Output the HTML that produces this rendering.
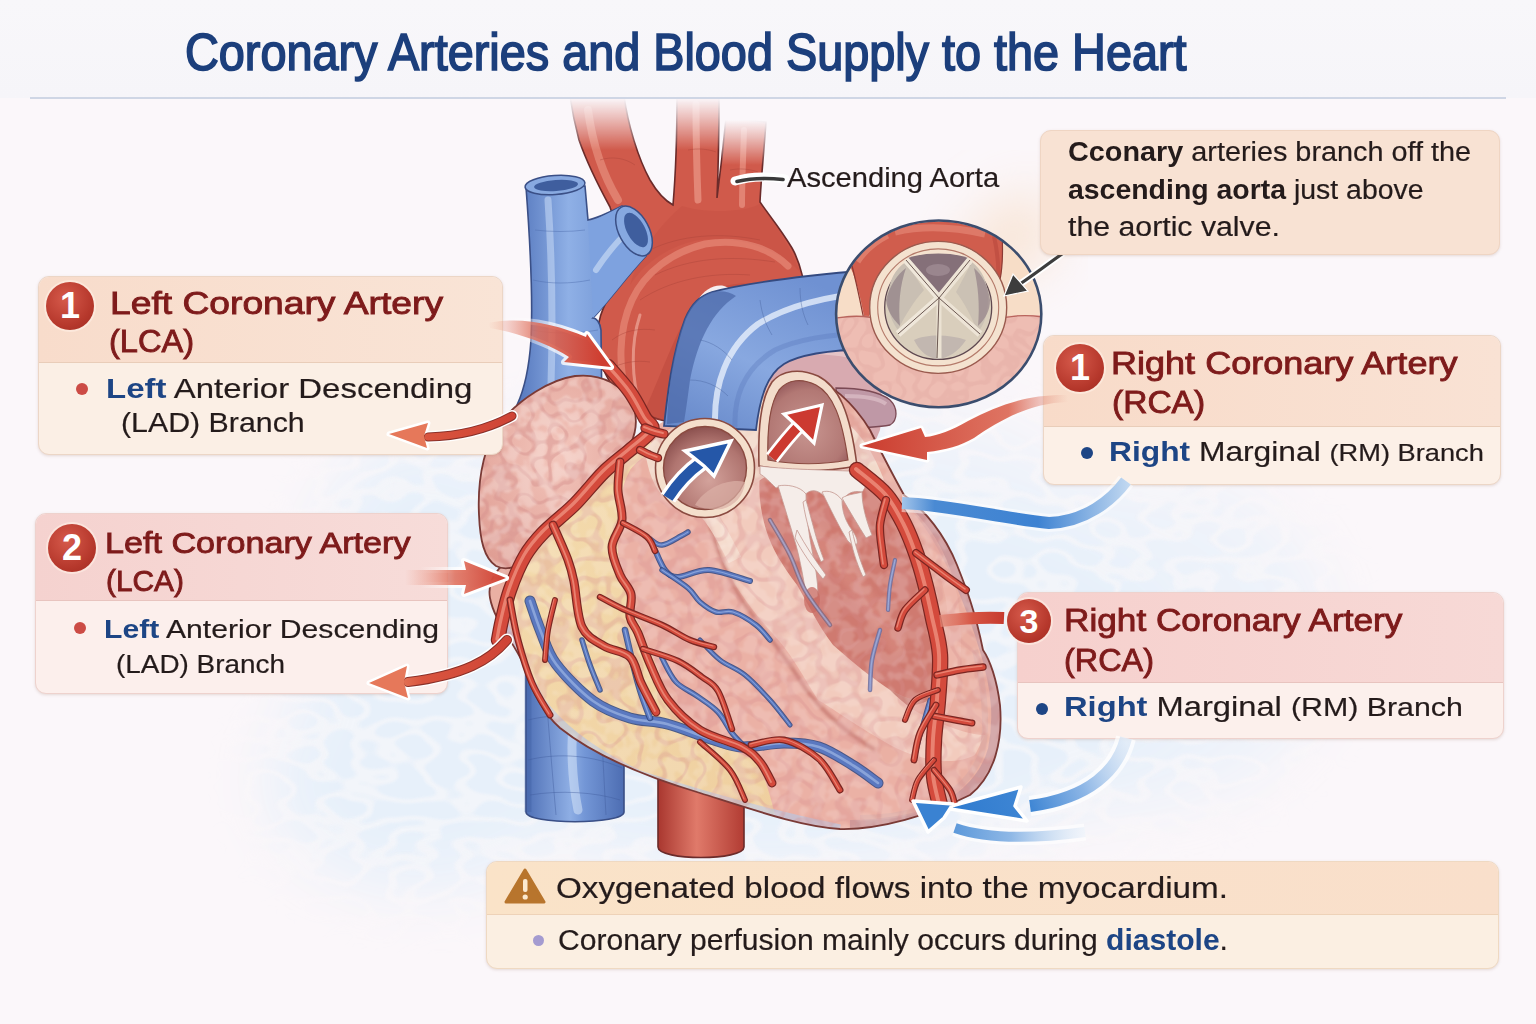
<!DOCTYPE html>
<html><head><meta charset="utf-8">
<title>Coronary Arteries and Blood Supply to the Heart</title>
<style>
#hdrband{position:absolute;left:0;top:0;width:1536px;height:98px;background:linear-gradient(180deg,#f8f7fa,#f6f5f9);}
html,body{margin:0;padding:0;}
body{width:1536px;height:1024px;position:relative;overflow:hidden;background:#fbf7fa;font-family:"Liberation Sans",sans-serif;}
.abs{position:absolute;}
.t{position:absolute;white-space:nowrap;transform-origin:0 0;line-height:1;}
.box{position:absolute;border-radius:11px;overflow:hidden;box-shadow:0 1px 3px rgba(150,110,90,0.22);}
.hd{position:absolute;left:0;right:0;top:0;}
.badge{position:absolute;border-radius:50%;background:radial-gradient(circle at 40% 35%,#d65a4b,#b5372b 65%,#9c2a21);color:#fff;font-weight:bold;text-align:center;box-shadow:0 0 0 2px rgba(255,240,230,0.6);}
.red{color:#7e1b1b;-webkit-text-stroke:0.9px #7e1b1b;}
.blk{color:#241b1b;-webkit-text-stroke:0.2px #241b1b;}
.nav{color:#1d4585;font-weight:bold;-webkit-text-stroke:0;}
b{-webkit-text-stroke:0;}
</style></head><body>
<div id="hdrband"></div>
<svg class="abs" style="left:0;top:0" width="1536" height="1024" viewBox="0 0 1536 1024">
<defs>
  <filter id="cells" x="0" y="0" width="100%" height="100%">
    <feTurbulence type="turbulence" baseFrequency="0.05" numOctaves="1" seed="9" result="n"/>
    <feColorMatrix in="n" type="matrix" values="0 0 0 0 0.68  0 0 0 0 0.28  0 0 0 0 0.28  0 0 0 -10 1.6" result="c"/>
    <feGaussianBlur stdDeviation="0.5"/>
    <feComposite in2="SourceGraphic" operator="in"/>
  </filter>
  <filter id="cellsSmall" x="0" y="0" width="100%" height="100%">
    <feTurbulence type="turbulence" baseFrequency="0.06" numOctaves="1" seed="4" result="n"/>
    <feColorMatrix in="n" type="matrix" values="0 0 0 0 0.68  0 0 0 0 0.3  0 0 0 0 0.28  0 0 0 -10 1.6" result="c"/>
    <feGaussianBlur stdDeviation="0.5"/>
    <feComposite in2="SourceGraphic" operator="in"/>
  </filter>
  <filter id="hilite" x="0" y="0" width="100%" height="100%">
    <feTurbulence type="fractalNoise" baseFrequency="0.075" numOctaves="2" seed="3" result="n"/>
    <feColorMatrix in="n" type="matrix" values="0 0 0 0 1  0 0 0 0 0.95  0 0 0 0 0.92  0 0 0 -14 7.5" result="c"/>
    <feGaussianBlur stdDeviation="1"/>
    <feComposite in2="SourceGraphic" operator="in"/>
  </filter>
  <filter id="blur30" x="-50%" y="-50%" width="200%" height="200%"><feGaussianBlur stdDeviation="30"/></filter>
  <filter id="blur8" x="-50%" y="-50%" width="200%" height="200%"><feGaussianBlur stdDeviation="8"/></filter>
  <filter id="blur3" x="-20%" y="-20%" width="140%" height="140%"><feGaussianBlur stdDeviation="3"/></filter>
  <filter id="blur2" x="-20%" y="-20%" width="140%" height="140%"><feGaussianBlur stdDeviation="1.6"/></filter>
  <!-- watercolor blotches -->
  <filter id="wc" x="0" y="0" width="100%" height="100%">
    <feTurbulence type="turbulence" baseFrequency="0.028 0.05" numOctaves="1" seed="2" result="n"/>
    <feColorMatrix in="n" type="matrix" values="0 0 0 0 0.8  0 0 0 0 0.87  0 0 0 0 0.955  0 0 0 12 -0.9" result="c"/>
    <feGaussianBlur stdDeviation="0.8"/>
    <feComposite in2="SourceGraphic" operator="in"/>
  </filter>
  <!-- bumpy tissue texture -->
  <filter id="bumps" x="0" y="0" width="100%" height="100%">
    <feTurbulence type="turbulence" baseFrequency="0.07" numOctaves="2" seed="3" result="n"/>
    <feColorMatrix in="n" type="matrix" values="0 0 0 0 1  0 0 0 0 0.93  0 0 0 0 0.9  0 0 0 3.2 -1.0" result="c"/>
    <feComposite in="c" in2="SourceGraphic" operator="in"/>
  </filter>
  <filter id="bumpsDark" x="0" y="0" width="100%" height="100%">
    <feTurbulence type="turbulence" baseFrequency="0.06" numOctaves="2" seed="11" result="n"/>
    <feColorMatrix in="n" type="matrix" values="0 0 0 0 0.72  0 0 0 0 0.3  0 0 0 0 0.28  0 0 0 -3 1.05" result="c"/>
    <feComposite in="c" in2="SourceGraphic" operator="in"/>
  </filter>
  <linearGradient id="aortaG" x1="0" y1="0" x2="1" y2="0">
    <stop offset="0" stop-color="#b8423a"/><stop offset="0.35" stop-color="#dc6a5a"/><stop offset="0.6" stop-color="#d05446"/><stop offset="1" stop-color="#b53f36"/>
  </linearGradient>
  <linearGradient id="branchG" x1="0" y1="0" x2="1" y2="0">
    <stop offset="0" stop-color="#c24b3f"/><stop offset="0.45" stop-color="#e4806e"/><stop offset="1" stop-color="#c04a3e"/>
  </linearGradient>
  <linearGradient id="fadeTop" x1="0" y1="0" x2="0" y2="1">
    <stop offset="0" stop-color="#fbf7fa" stop-opacity="1"/><stop offset="0.3" stop-color="#fbf7fa" stop-opacity="0.8"/><stop offset="0.7" stop-color="#fbf7fa" stop-opacity="0.3"/><stop offset="1" stop-color="#fbf7fa" stop-opacity="0"/>
  </linearGradient>
  <linearGradient id="svcG" x1="0" y1="0" x2="1" y2="0">
    <stop offset="0" stop-color="#5577bd"/><stop offset="0.4" stop-color="#8fb0e6"/><stop offset="1" stop-color="#5f84c8"/>
  </linearGradient>
  <linearGradient id="ivcG" x1="0" y1="0" x2="1" y2="0">
    <stop offset="0" stop-color="#4f70b6"/><stop offset="0.45" stop-color="#8eaee4"/><stop offset="0.6" stop-color="#7396d6"/><stop offset="1" stop-color="#4d6db2"/>
  </linearGradient>
  <linearGradient id="redVG" x1="0" y1="0" x2="1" y2="0">
    <stop offset="0" stop-color="#a9372f"/><stop offset="0.45" stop-color="#e07a6a"/><stop offset="1" stop-color="#b23c33"/>
  </linearGradient>
  <linearGradient id="paG" x1="0" y1="1" x2="0.6" y2="0">
    <stop offset="0" stop-color="#6486c8"/><stop offset="0.5" stop-color="#88a8e0"/><stop offset="1" stop-color="#6f91d2"/>
  </linearGradient>
  <radialGradient id="bodyG" cx="0.45" cy="0.45" r="0.7">
    <stop offset="0" stop-color="#eeb7a8"/><stop offset="0.7" stop-color="#e9aa9b"/><stop offset="1" stop-color="#dc9488"/>
  </radialGradient>
  <linearGradient id="fatG" x1="0" y1="0" x2="1" y2="1">
    <stop offset="0" stop-color="#f4dcae"/><stop offset="1" stop-color="#efcf9f"/>
  </linearGradient>
  <radialGradient id="atrG" cx="0.5" cy="0.4" r="0.7">
    <stop offset="0" stop-color="#f3c6bc"/><stop offset="1" stop-color="#df9d93"/>
  </radialGradient>
  <radialGradient id="cavG" cx="0.5" cy="0.5" r="0.6">
    <stop offset="0" stop-color="#c9655c"/><stop offset="1" stop-color="#b9584f"/>
  </radialGradient>
  <radialGradient id="holeG" cx="0.55" cy="0.65" r="0.65">
    <stop offset="0" stop-color="#d3a29b"/><stop offset="0.7" stop-color="#b07570"/><stop offset="1" stop-color="#8d5250"/>
  </radialGradient>
  <radialGradient id="holeG2" cx="0.5" cy="0.6" r="0.65">
    <stop offset="0" stop-color="#c89590"/><stop offset="0.75" stop-color="#b27874"/><stop offset="1" stop-color="#94585a"/>
  </radialGradient>
  <linearGradient id="arrowFadeL" x1="0" y1="0" x2="1" y2="0">
    <stop offset="0" stop-color="#e06a55" stop-opacity="0"/><stop offset="0.45" stop-color="#dc5a48" stop-opacity="0.85"/><stop offset="1" stop-color="#cc3f33"/>
  </linearGradient>
  <linearGradient id="arrowFadeR" x1="1" y1="0" x2="0" y2="0">
    <stop offset="0" stop-color="#e06a55" stop-opacity="0.15"/><stop offset="0.5" stop-color="#dc5a48" stop-opacity="0.85"/><stop offset="1" stop-color="#cc3f33"/>
  </linearGradient>
  <linearGradient id="blueArrowG" x1="1" y1="0" x2="0" y2="0">
    <stop offset="0" stop-color="#5d9ad8" stop-opacity="0.2"/><stop offset="0.5" stop-color="#4b8ad4"/><stop offset="1" stop-color="#2f78cc"/>
  </linearGradient>
  <clipPath id="insetClip"><ellipse cx="938.7" cy="313.9" rx="101.5" ry="92.5"/></clipPath>
</defs>
<mask id="wcMask" maskUnits="userSpaceOnUse" x="0" y="0" width="1536" height="1024">
  <g filter="url(#blur30)">
    <ellipse cx="760" cy="670" rx="440" ry="200" fill="#fff"/>
    <ellipse cx="1130" cy="640" rx="200" ry="170" fill="#fff" opacity="0.7"/>
    <ellipse cx="420" cy="640" rx="120" ry="200" fill="#fff"/>
    <ellipse cx="420" cy="780" rx="150" ry="110" fill="#fff"/>
    <ellipse cx="760" cy="470" rx="300" ry="80" fill="#fff" opacity="0.6"/>
  </g>
</mask>
<g mask="url(#wcMask)">
  <rect x="0" y="0" width="1536" height="1024" fill="#eef3fa" opacity="0.7"/>
  <rect x="0" y="0" width="1536" height="1024" fill="#fff" filter="url(#wc)"/>
</g>
<!-- ===== back vessels ===== -->
<!-- aorta arch + branches -->
<mask id="aortaMask" maskUnits="userSpaceOnUse" x="0" y="0" width="1536" height="1024">
  <linearGradient id="mg1" gradientUnits="userSpaceOnUse" x1="0" y1="98" x2="0" y2="150"><stop offset="0" stop-color="#000"/><stop offset="0.35" stop-color="#555"/><stop offset="1" stop-color="#fff"/></linearGradient>
  <linearGradient id="mg2" gradientUnits="userSpaceOnUse" x1="0" y1="120" x2="0" y2="165"><stop offset="0" stop-color="#000"/><stop offset="0.35" stop-color="#555"/><stop offset="1" stop-color="#fff"/></linearGradient>
  <rect x="0" y="150" width="1536" height="874" fill="#fff"/>
  <rect x="540" y="90" width="182" height="60" fill="url(#mg1)"/>
  <rect x="722" y="90" width="70" height="60" fill="#000"/>
  <rect x="722" y="120" width="70" height="45" fill="url(#mg2)"/>
  <rect x="722" y="165" width="70" height="10" fill="#fff"/>
</mask>
<g id="aorta" mask="url(#aortaMask)">
  <path d="M570,96 L624,96 C628,125 638,158 650,180 C657,192 664,200 673,205 C676,170 677,130 677,96 L719,96 C719,140 718,175 717,198 C720,175 723,150 726,118 L766,122 C764,150 761,180 760,202 C768,214 780,228 792,248 C800,262 806,285 807,310 L806,345 L760,420 L690,440 L665,421 C620,410 605,381 597,349 C597,320 600,311 617,282 C622,260 618,230 610,207 C598,185 586,160 579,140 C575,125 572,110 570,96 Z" fill="#d05a4b" stroke="#6b2b2a" stroke-width="1.6"/>
  <path d="M640,420 C660,380 675,330 697,300 C715,285 740,280 770,285 C790,290 800,300 806,320 L806,345 L760,420 Z" fill="#b9453a" opacity="0.45"/>
  <path d="M682,206 C700,212 740,214 760,204 C775,222 790,246 800,272 C780,250 740,235 700,240 C670,245 645,262 630,285 C640,250 660,225 682,206 Z" fill="#c04c40" opacity="0.3"/>
  <path d="M588,110 C592,140 600,170 618,200" stroke="#f0a492" stroke-width="8" fill="none" opacity="0.5" stroke-linecap="round"/>
  <path d="M696,104 C696,140 697,175 698,200" stroke="#f3ac9b" stroke-width="7" fill="none" opacity="0.55" stroke-linecap="round"/>
  <path d="M744,130 C743,160 742,185 742,205" stroke="#f3ac9b" stroke-width="6" fill="none" opacity="0.5" stroke-linecap="round"/>
  <path d="M628,400 C618,370 618,330 632,300 C645,272 672,252 705,244 C740,238 770,248 788,266" stroke="#ef9c8a" stroke-width="7" fill="none" opacity="0.5" stroke-linecap="round"/>
  <path d="M640,405 C632,380 630,345 640,315" stroke="#f6c0b2" stroke-width="3" fill="none" opacity="0.55" stroke-linecap="round"/>
  <path d="M650,250 C680,235 720,232 760,240 M655,275 C690,258 730,255 775,262 M640,300 C670,280 710,272 750,275 M612,340 C625,330 640,328 655,330 M608,370 C622,362 636,360 650,362 M600,160 C612,156 625,158 635,165 M688,150 C698,148 708,149 716,152 M730,170 C740,168 750,169 758,172" stroke="#a9443a" stroke-width="0.9" fill="none" opacity="0.45"/>
  <!-- arch inner gap -->
  <path d="M698,300 C704,290 714,284 724,286 C730,288 733,292 734,296 L702,308 Z" fill="#f6eef0"/>
</g>
<!-- SVC -->
<g id="svc">
  <path d="M526,187 C530,240 533,300 531,340 C529,370 524,390 517,405 L519,500 L603,500 L601,330 C600,322 596,318 593,318 C610,300 628,275 646,256 L622,206 C610,212 598,218 588,220 L585,186 Z" fill="url(#svcG)" stroke="#3a4f86" stroke-width="1.6"/>
  <path d="M593,318 C610,300 628,275 646,256 L622,206 C605,215 592,222 588,222 C590,260 592,290 593,318 Z" fill="#7ea2df"/>
  <path d="M548,200 C552,260 553,320 551,385" stroke="#c9daf5" stroke-width="7" fill="none" opacity="0.55" stroke-linecap="round"/>
  <path d="M596,270 C608,252 620,238 632,228" stroke="#d2e1f7" stroke-width="6" fill="none" opacity="0.6" stroke-linecap="round"/>
  <path d="M535,230 C550,232 570,232 585,230 M533,280 C550,284 570,284 590,280 M532,330 C552,334 575,334 598,330" stroke="#4e6cae" stroke-width="0.9" fill="none" opacity="0.5"/>
  <ellipse cx="555" cy="185" rx="30" ry="9.5" transform="rotate(-4 555 185)" fill="#88a9e0" stroke="#3a4f86" stroke-width="1.5"/>
  <ellipse cx="556" cy="185.5" rx="22" ry="5.5" transform="rotate(-4 556 185)" fill="#3f5e9e"/>
  <ellipse cx="634" cy="231" rx="15" ry="27" transform="rotate(-28 634 231)" fill="#86a8e0" stroke="#3a4f86" stroke-width="1.5"/>
  <ellipse cx="636" cy="230" rx="9" ry="19" transform="rotate(-28 636 230)" fill="#3f5e9e"/>
</g>
<!-- IVC -->
<g id="ivc">
  <path d="M526,640 L526,812 C526,825 624,825 624,812 L624,640 Z" fill="url(#ivcG)" stroke="#3a4f86" stroke-width="1.6"/>
  <path d="M575,700 C570,740 572,780 578,810" stroke="#d6e3f7" stroke-width="9" fill="none" opacity="0.55" stroke-linecap="round"/>
  <path d="M528,720 C560,712 590,716 622,730 M528,760 C560,752 595,756 622,768 M530,795 C560,790 595,792 620,800 M545,680 C548,720 552,770 556,815 M600,700 C602,740 604,780 606,815" stroke="#3d5a9a" stroke-width="0.9" fill="none" opacity="0.45"/>
  <path d="M528,660 L528,812" stroke="#3e5da0" stroke-width="7" opacity="0.35"/>
</g>
<!-- red vessel bottom -->
<g id="redv">
  <path d="M658,760 L658,847 C658,861 744,861 744,847 L744,760 Z" fill="url(#redVG)" stroke="#6b2b2a" stroke-width="1.6"/>
</g>
<!-- ===== heart body ===== -->
<g id="body">
  <!-- mauve tissue behind right opening -->
  <path d="M760,350 C800,345 840,344 868,350 C880,370 885,395 880,430 C870,455 860,470 840,475 L760,475 Z" fill="#d8aab0"/>
  <path d="M775,352 C810,350 840,352 860,358" stroke="#efd3d6" stroke-width="5" fill="none" opacity="0.6"/>
  <!-- purple atrium behind right (pulmonary vein stub) -->
  <path d="M836,388 C860,388 880,392 890,400 C898,408 898,420 890,425 C875,428 860,428 840,428 Z" fill="#bf98a6" stroke="#7b4a55" stroke-width="1.3"/>
  <path d="M845,396 C862,396 878,398 886,404" stroke="#e2c6cf" stroke-width="4" fill="none" opacity="0.6"/>
  <!-- main ventricle mass -->
  <path d="M528,548 C505,560 486,575 490,598 C494,620 512,640 523,663 C530,690 545,715 560,728 C590,752 640,775 700,793 C760,812 800,826 840,829 C880,830 930,815 970,795 C995,775 1003,740 1000,705 C997,680 990,660 983,650 C975,610 965,585 957,565 C945,535 925,510 904,495 C890,470 880,450 870,430 C855,405 830,380 800,372 L700,405 C660,420 630,440 600,475 C570,510 550,530 528,548 Z" fill="#eab0a3"/>
  <clipPath id="ventClip"><path d="M528,548 C505,560 486,575 490,598 C494,620 512,640 523,663 C530,690 545,715 560,728 C590,752 640,775 700,793 C760,812 800,826 840,829 C880,830 930,815 970,795 C995,775 1003,740 1000,705 C997,680 990,660 983,650 C975,610 965,585 957,565 C945,535 925,510 904,495 C890,470 880,450 870,430 C855,405 830,380 800,372 L700,405 C660,420 630,440 600,475 C570,510 550,530 528,548 Z"/></clipPath>
  <g clip-path="url(#ventClip)">
    <!-- LV surface -->
    <path d="M630,470 C660,495 690,512 720,505 C735,530 746,560 760,595 C773,626 795,655 813,676 C830,700 845,725 879,759 C900,775 930,790 950,800 L950,840 L600,840 L600,470 Z" fill="#ebb1a5"/>
    <!-- RV cavity -->
    <path d="M760,472 C800,466 835,466 860,472 C880,495 899,522 910,550 C920,577 928,605 932,631 C936,660 938,686 930,700 C915,702 905,698 890,690 C872,678 852,662 833,645 C820,628 811,610 797,585 C782,565 772,549 766,530 C760,510 758,490 760,472 Z" fill="#cf7a70"/>
    <path d="M760,472 C758,490 760,510 766,530 C772,549 782,565 797,585 C811,610 820,628 833,645 C852,662 872,678 890,690 C905,698 915,702 930,700 C905,712 880,705 860,692 C835,675 815,650 800,625 C785,600 770,575 762,550 C754,525 752,495 760,472 Z" fill="#a9544e" opacity="0.45"/>
    <path d="M800,520 C840,560 870,600 900,650" stroke="#e19a8e" stroke-width="18" fill="none" opacity="0.35" filter="url(#blur3)"/>
    <!-- septum light band -->
    <path d="M704,505 C712,525 716,545 722,560 C735,590 760,620 780,642 C795,660 805,680 818,700 C835,710 860,728 890,745 C915,758 950,768 975,755 L985,735 C970,735 950,728 930,718 C915,712 905,705 890,690 C872,678 852,662 833,645 C820,628 811,610 797,585 C782,565 772,549 766,530 C760,510 758,490 760,472 C745,485 730,495 716,505 Z" fill="#f2cbbd"/>
    <!-- dark crease left of septum -->
    <path d="M708,520 C716,545 725,575 745,605 C765,632 785,655 805,688 C825,715 850,735 875,750" stroke="#b45d57" stroke-width="4" fill="none" opacity="0.55" filter="url(#blur2)"/>
    <!-- mauve pericardial rim right-bottom -->
    <path d="M920,505 C950,540 975,600 990,650 C1002,690 1004,720 998,750 C990,780 970,800 940,815 C910,826 880,830 850,830" stroke="#c0939a" stroke-width="20" fill="none" opacity="0.7"/>
    <path d="M975,650 C985,690 988,725 982,752 C972,780 950,797 925,808 C900,816 880,818 860,818" stroke="#d9a8a4" stroke-width="6" fill="none" opacity="0.6"/>
    <!-- outer right wall band highlight -->
    <path d="M893,500 C925,525 945,560 952,600 C958,640 955,680 945,705 C935,725 920,740 905,748" stroke="#efbcb0" stroke-width="12" fill="none" opacity="0.55"/>
    <!-- fat region -->
    <path d="M640,426 C628,445 612,462 596,480 C575,504 550,528 528,552 C518,570 512,590 512,610 C513,640 522,665 532,688 C545,712 560,728 580,742 C620,765 660,782 700,793 C720,800 740,805 775,815 C770,795 765,775 755,760 C735,752 715,742 700,730 C682,716 670,700 662,680 C652,655 645,640 641,627 C632,610 627,604 624,585 C618,560 616,545 618,520 C620,500 622,485 630,470 C636,462 645,455 656,450 Z" fill="url(#fatG)"/>
    <!-- pericardial blue rim along lower-left edge -->
    <path d="M500,612 C510,645 525,670 540,700 C560,728 590,752 640,775 C700,795 760,812 840,829" stroke="#b7c4e2" stroke-width="9" fill="none" opacity="0.65"/>
    <!-- valve plane cream -->
    <path d="M645,450 C665,425 705,408 760,398 C820,392 862,420 884,480 C852,484 805,478 766,476 C745,492 712,505 690,510 C668,508 650,490 645,450 Z" fill="#f2d9ca"/>
    <path d="M700,505 C715,520 725,540 735,560" stroke="#f6e2d6" stroke-width="14" fill="none" opacity="0.7"/>
    <!-- textures -->
    <rect x="500" y="380" width="520" height="470" fill="#fff" filter="url(#cells)" opacity="0.3"/>
    <rect x="500" y="380" width="520" height="470" fill="#fff" filter="url(#hilite)" opacity="0.16"/>
  </g>
  <path d="M528,548 C505,560 486,575 490,598 C494,620 512,640 523,663 C530,690 545,715 560,728 C590,752 640,775 700,793 C760,812 800,826 840,829 C880,830 930,815 970,795 C995,775 1003,740 1000,705 C997,680 990,660 983,650 C975,610 965,585 957,565 C945,535 925,510 904,495 C890,470 880,450 870,430 C855,405 830,380 800,372" fill="none" stroke="#7a3a36" stroke-width="1.8"/>
</g>
<!-- left atrium appendage -->
<g id="atrium">
  <path d="M479,515 C477,475 486,440 502,420 C520,400 548,380 575,376 C602,373 624,385 634,408 C640,430 632,448 615,465 C590,490 560,515 532,552 C522,566 508,572 496,566 C484,558 480,540 479,515 Z" fill="url(#atrG)"/>
  <clipPath id="atrClip"><path d="M479,515 C477,475 486,440 502,420 C520,400 548,380 575,376 C602,373 624,385 634,408 C640,430 632,448 615,465 C590,490 560,515 532,552 C522,566 508,572 496,566 C484,558 480,540 479,515 Z"/></clipPath>
  <g clip-path="url(#atrClip)">
    <rect x="470" y="370" width="180" height="250" fill="#fff" filter="url(#cellsSmall)" opacity="0.5"/>
    <rect x="470" y="370" width="180" height="250" fill="#fff" filter="url(#hilite)" opacity="0.28"/>
  </g>
  <path d="M479,515 C477,475 486,440 502,420 C520,400 548,380 575,376 C602,373 624,385 634,408 C640,430 632,448 615,465 C590,490 560,515 532,552 C522,566 508,572 496,566 C484,558 480,540 479,515 Z" fill="none" stroke="#7a3a36" stroke-width="1.8"/>
</g>
<!-- pulmonary artery -->
<g id="pa">
  <path d="M664,426 C668,390 672,355 685,319 C692,303 700,296 712,292 C745,283 800,276 870,270 L870,349 C830,350 800,354 784,364 C768,374 760,395 756,430 Z" fill="url(#paG)" stroke="#344a80" stroke-width="1.8"/>
  <path d="M685,319 C692,303 700,296 712,292 C722,290 730,292 736,296 C712,312 698,340 690,380 C688,395 686,410 684,422 L667,424 C668,390 673,350 685,319 Z" fill="#4a67a6" opacity="0.7"/>
  <path d="M715,424 C714,385 726,348 758,324 C790,304 830,296 870,292" stroke="#eef4fd" stroke-width="6" fill="none" opacity="0.75" stroke-linecap="round"/>
  <path d="M735,426 C734,395 745,368 775,350 C800,338 835,334 870,333" stroke="#5272b6" stroke-width="5" fill="none" opacity="0.3" stroke-linecap="round"/>
  <path d="M700,340 C712,342 724,350 732,360 M690,380 C705,380 718,386 728,396 M760,300 C762,315 766,325 772,335 M800,288 C800,302 803,315 808,325" stroke="#48649f" stroke-width="0.9" fill="none" opacity="0.45"/>
</g>
<!-- ===== details ===== -->
<g id="openings">
<circle cx="705" cy="468" r="49.5" fill="#f4dfcc" stroke="#8a4a40" stroke-width="1.6"/>
<circle cx="705" cy="468" r="41.5" fill="url(#holeG)" stroke="#8a4a40" stroke-width="1.4"/>
<path d="M695,505 C705,488 728,478 745,482 C744,495 735,506 722,509 C712,510 702,509 695,505 Z" fill="#dcb0a6" opacity="0.7"/>
<path d="M668,498 C677,484 688,472 702,462" stroke="#fff" stroke-width="17" fill="none"/>
<path d="M668,498 C677,484 688,472 702,462" stroke="#2557a8" stroke-width="10.5" fill="none"/>
<path d="M731,441 L685,451 L694,458 L704,466 L714,476 Z" fill="#2557a8" stroke="#fff" stroke-width="3.5" stroke-linejoin="miter"/>
<path d="M759,466 C758,430 760,400 772,382 C782,370 800,368 818,376 C838,386 850,410 857,466 C825,472 790,472 759,466 Z" fill="#f3dccb" stroke="#8a4a40" stroke-width="1.6"/>
<path d="M768,460 C767,430 769,405 779,390 C788,379 802,378 816,385 C833,394 842,418 848,460 C822,465 795,465 768,460 Z" fill="url(#holeG2)" stroke="#8a4a40" stroke-width="1.2"/>
<path d="M772,458 C782,445 792,432 803,422" stroke="#fff" stroke-width="15" fill="none"/>
<path d="M772,458 C782,445 792,432 803,422" stroke="#cc3a30" stroke-width="9.5" fill="none"/>
<path d="M822,405 L784,414 L797,426 L814,443 Z" fill="#cc3a30" stroke="#fff" stroke-width="3.2" stroke-linejoin="miter"/>
</g>
<g id="chordae" fill="#f5ede9" stroke="#c49890" stroke-width="0.8">
<path d="M760,466 C790,470 840,470 866,472 C868,480 866,488 862,492 C852,490 846,494 842,502 C838,494 830,490 824,496 C818,490 810,488 804,496 C796,488 784,484 776,488 C770,482 764,476 760,474 Z"/>
<path d="M778,486 C786,484 800,486 806,494 C806,510 808,530 812,550 C815,565 818,580 818,596 C814,600 808,600 806,596 C804,580 800,560 796,545 C790,525 784,505 778,486 Z"/>
<path d="M797,530 C805,545 815,560 826,575 L823,579 C812,566 802,552 795,538 Z"/>
<path d="M822,492 C828,490 836,492 842,500 C842,512 846,522 852,530 C856,536 858,540 857,544 C852,546 848,542 846,538 C838,525 830,508 822,492 Z"/>
<path d="M842,498 C848,494 856,494 862,492 C862,505 866,520 872,535 L866,538 C858,525 850,512 842,498 Z"/>
<path d="M806,500 C812,520 816,540 824,560 L821,562 C812,542 806,522 803,502 Z"/>
<path d="M852,530 C856,548 860,560 866,575 L863,577 C856,562 852,548 849,532 Z"/>
</g>
<ellipse cx="812" cy="600" rx="8" ry="13" fill="#c86a62" opacity="0.75"/>
<g id="veins">
<path d="M530.0,601.0 C531.8,606.2 536.7,621.5 541.0,632.0 C545.3,642.5 547.3,652.5 556.0,664.0 C564.7,675.5 580.7,692.0 593.0,701.0 C605.3,710.0 617.7,714.2 630.0,718.0 C642.3,721.8 653.0,720.3 667.0,724.0 C681.0,727.7 701.5,736.2 714.0,740.0 C726.5,743.8 730.3,746.5 742.0,747.0 C753.7,747.5 771.2,743.0 784.0,743.0 C796.8,743.0 807.3,743.2 819.0,747.0 C830.7,750.8 844.2,760.0 854.0,766.0 C863.8,772.0 874.0,780.2 878.0,783.0" stroke="#2e4680" stroke-width="11" fill="none" stroke-linecap="round" stroke-linejoin="round" opacity="0.85"/><path d="M530.0,601.0 C531.8,606.2 536.7,621.5 541.0,632.0 C545.3,642.5 547.3,652.5 556.0,664.0 C564.7,675.5 580.7,692.0 593.0,701.0 C605.3,710.0 617.7,714.2 630.0,718.0 C642.3,721.8 653.0,720.3 667.0,724.0 C681.0,727.7 701.5,736.2 714.0,740.0 C726.5,743.8 730.3,746.5 742.0,747.0 C753.7,747.5 771.2,743.0 784.0,743.0 C796.8,743.0 807.3,743.2 819.0,747.0 C830.7,750.8 844.2,760.0 854.0,766.0 C863.8,772.0 874.0,780.2 878.0,783.0" stroke="#5a78c0" stroke-width="9" fill="none" stroke-linecap="round" stroke-linejoin="round"/><path d="M530.0,601.0 C531.8,606.2 536.7,621.5 541.0,632.0 C545.3,642.5 547.3,652.5 556.0,664.0 C564.7,675.5 580.7,692.0 593.0,701.0 C605.3,710.0 617.7,714.2 630.0,718.0 C642.3,721.8 653.0,720.3 667.0,724.0 C681.0,727.7 701.5,736.2 714.0,740.0 C726.5,743.8 730.3,746.5 742.0,747.0 C753.7,747.5 771.2,743.0 784.0,743.0 C796.8,743.0 807.3,743.2 819.0,747.0 C830.7,750.8 844.2,760.0 854.0,766.0 C863.8,772.0 874.0,780.2 878.0,783.0" stroke="#a9c0ea" stroke-width="2.6999999999999997" fill="none" stroke-linecap="round" opacity="0.6"/>
<path d="M650.0,718.0 C648.3,713.3 643.0,699.7 640.0,690.0 C637.0,680.3 634.5,670.0 632.0,660.0 C629.5,650.0 626.2,635.0 625.0,630.0" stroke="#2e4680" stroke-width="6.5" fill="none" stroke-linecap="round" stroke-linejoin="round" opacity="0.85"/><path d="M650.0,718.0 C648.3,713.3 643.0,699.7 640.0,690.0 C637.0,680.3 634.5,670.0 632.0,660.0 C629.5,650.0 626.2,635.0 625.0,630.0" stroke="#5a78c0" stroke-width="4.5" fill="none" stroke-linecap="round" stroke-linejoin="round"/><path d="M650.0,718.0 C648.3,713.3 643.0,699.7 640.0,690.0 C637.0,680.3 634.5,670.0 632.0,660.0 C629.5,650.0 626.2,635.0 625.0,630.0" stroke="#a9c0ea" stroke-width="1.3499999999999999" fill="none" stroke-linecap="round" opacity="0.6"/>
<path d="M600.0,690.0 C598.3,685.8 593.0,673.3 590.0,665.0 C587.0,656.7 583.3,644.2 582.0,640.0" stroke="#2e4680" stroke-width="5.5" fill="none" stroke-linecap="round" stroke-linejoin="round" opacity="0.85"/><path d="M600.0,690.0 C598.3,685.8 593.0,673.3 590.0,665.0 C587.0,656.7 583.3,644.2 582.0,640.0" stroke="#5a78c0" stroke-width="3.5" fill="none" stroke-linecap="round" stroke-linejoin="round"/><path d="M600.0,690.0 C598.3,685.8 593.0,673.3 590.0,665.0 C587.0,656.7 583.3,644.2 582.0,640.0" stroke="#a9c0ea" stroke-width="1.05" fill="none" stroke-linecap="round" opacity="0.6"/>
<path d="M650.0,539.0 C652.0,540.0 656.8,545.5 662.0,545.0 C667.2,544.5 676.7,538.2 681.0,536.0 C685.3,533.8 686.8,532.7 688.0,532.0" stroke="#2e4680" stroke-width="5.5" fill="none" stroke-linecap="round" stroke-linejoin="round" opacity="0.85"/><path d="M650.0,539.0 C652.0,540.0 656.8,545.5 662.0,545.0 C667.2,544.5 676.7,538.2 681.0,536.0 C685.3,533.8 686.8,532.7 688.0,532.0" stroke="#5a78c0" stroke-width="3.5" fill="none" stroke-linecap="round" stroke-linejoin="round"/><path d="M650.0,539.0 C652.0,540.0 656.8,545.5 662.0,545.0 C667.2,544.5 676.7,538.2 681.0,536.0 C685.3,533.8 686.8,532.7 688.0,532.0" stroke="#a9c0ea" stroke-width="1.05" fill="none" stroke-linecap="round" opacity="0.6"/>
<path d="M655.0,550.0 C656.7,553.3 661.2,565.5 665.0,570.0 C668.8,574.5 670.7,577.0 678.0,577.0 C685.3,577.0 697.0,569.3 709.0,570.0 C721.0,570.7 743.2,579.2 750.0,581.0" stroke="#2e4680" stroke-width="6" fill="none" stroke-linecap="round" stroke-linejoin="round" opacity="0.85"/><path d="M655.0,550.0 C656.7,553.3 661.2,565.5 665.0,570.0 C668.8,574.5 670.7,577.0 678.0,577.0 C685.3,577.0 697.0,569.3 709.0,570.0 C721.0,570.7 743.2,579.2 750.0,581.0" stroke="#5a78c0" stroke-width="4" fill="none" stroke-linecap="round" stroke-linejoin="round"/><path d="M655.0,550.0 C656.7,553.3 661.2,565.5 665.0,570.0 C668.8,574.5 670.7,577.0 678.0,577.0 C685.3,577.0 697.0,569.3 709.0,570.0 C721.0,570.7 743.2,579.2 750.0,581.0" stroke="#a9c0ea" stroke-width="1.2" fill="none" stroke-linecap="round" opacity="0.6"/>
<path d="M662.0,570.0 C666.3,573.0 681.7,582.7 688.0,588.0 C694.3,593.3 695.3,598.0 700.0,602.0 C704.7,606.0 710.5,610.3 716.0,612.0 C721.5,613.7 726.3,609.8 733.0,612.0 C739.7,614.2 749.8,620.3 756.0,625.0 C762.2,629.7 767.7,637.5 770.0,640.0" stroke="#2e4680" stroke-width="5.5" fill="none" stroke-linecap="round" stroke-linejoin="round" opacity="0.85"/><path d="M662.0,570.0 C666.3,573.0 681.7,582.7 688.0,588.0 C694.3,593.3 695.3,598.0 700.0,602.0 C704.7,606.0 710.5,610.3 716.0,612.0 C721.5,613.7 726.3,609.8 733.0,612.0 C739.7,614.2 749.8,620.3 756.0,625.0 C762.2,629.7 767.7,637.5 770.0,640.0" stroke="#5a78c0" stroke-width="3.5" fill="none" stroke-linecap="round" stroke-linejoin="round"/><path d="M662.0,570.0 C666.3,573.0 681.7,582.7 688.0,588.0 C694.3,593.3 695.3,598.0 700.0,602.0 C704.7,606.0 710.5,610.3 716.0,612.0 C721.5,613.7 726.3,609.8 733.0,612.0 C739.7,614.2 749.8,620.3 756.0,625.0 C762.2,629.7 767.7,637.5 770.0,640.0" stroke="#a9c0ea" stroke-width="1.05" fill="none" stroke-linecap="round" opacity="0.6"/>
<path d="M662.0,658.0 C664.3,662.0 670.2,675.7 676.0,682.0 C681.8,688.3 690.0,691.0 697.0,696.0 C704.0,701.0 712.2,705.8 718.0,712.0 C723.8,718.2 727.5,727.2 732.0,733.0 C736.5,738.8 742.8,744.7 745.0,747.0" stroke="#2e4680" stroke-width="5.5" fill="none" stroke-linecap="round" stroke-linejoin="round" opacity="0.85"/><path d="M662.0,658.0 C664.3,662.0 670.2,675.7 676.0,682.0 C681.8,688.3 690.0,691.0 697.0,696.0 C704.0,701.0 712.2,705.8 718.0,712.0 C723.8,718.2 727.5,727.2 732.0,733.0 C736.5,738.8 742.8,744.7 745.0,747.0" stroke="#5a78c0" stroke-width="3.5" fill="none" stroke-linecap="round" stroke-linejoin="round"/><path d="M662.0,658.0 C664.3,662.0 670.2,675.7 676.0,682.0 C681.8,688.3 690.0,691.0 697.0,696.0 C704.0,701.0 712.2,705.8 718.0,712.0 C723.8,718.2 727.5,727.2 732.0,733.0 C736.5,738.8 742.8,744.7 745.0,747.0" stroke="#a9c0ea" stroke-width="1.05" fill="none" stroke-linecap="round" opacity="0.6"/>
<path d="M700.0,640.0 C703.3,643.3 712.5,654.2 720.0,660.0 C727.5,665.8 736.7,668.3 745.0,675.0 C753.3,681.7 762.5,691.7 770.0,700.0 C777.5,708.3 786.7,720.8 790.0,725.0" stroke="#2e4680" stroke-width="5" fill="none" stroke-linecap="round" stroke-linejoin="round" opacity="0.85"/><path d="M700.0,640.0 C703.3,643.3 712.5,654.2 720.0,660.0 C727.5,665.8 736.7,668.3 745.0,675.0 C753.3,681.7 762.5,691.7 770.0,700.0 C777.5,708.3 786.7,720.8 790.0,725.0" stroke="#5a78c0" stroke-width="3" fill="none" stroke-linecap="round" stroke-linejoin="round"/><path d="M700.0,640.0 C703.3,643.3 712.5,654.2 720.0,660.0 C727.5,665.8 736.7,668.3 745.0,675.0 C753.3,681.7 762.5,691.7 770.0,700.0 C777.5,708.3 786.7,720.8 790.0,725.0" stroke="#a9c0ea" stroke-width="1" fill="none" stroke-linecap="round" opacity="0.6"/>
<path d="M770.0,520.0 C773.3,525.8 784.2,543.3 790.0,555.0 C795.8,566.7 798.3,578.3 805.0,590.0 C811.7,601.7 825.8,619.2 830.0,625.0" stroke="#80687f" stroke-width="4.5" fill="none" stroke-linecap="round" stroke-linejoin="round" opacity="0.85"/><path d="M770.0,520.0 C773.3,525.8 784.2,543.3 790.0,555.0 C795.8,566.7 798.3,578.3 805.0,590.0 C811.7,601.7 825.8,619.2 830.0,625.0" stroke="#a08aa8" stroke-width="2.5" fill="none" stroke-linecap="round" stroke-linejoin="round"/><path d="M770.0,520.0 C773.3,525.8 784.2,543.3 790.0,555.0 C795.8,566.7 798.3,578.3 805.0,590.0 C811.7,601.7 825.8,619.2 830.0,625.0" stroke="#a9c0ea" stroke-width="1" fill="none" stroke-linecap="round" opacity="0.6"/>
<path d="M880.0,630.0 C878.7,635.0 873.7,650.0 872.0,660.0 C870.3,670.0 870.3,685.0 870.0,690.0" stroke="#6a6f9f" stroke-width="4.5" fill="none" stroke-linecap="round" stroke-linejoin="round" opacity="0.85"/><path d="M880.0,630.0 C878.7,635.0 873.7,650.0 872.0,660.0 C870.3,670.0 870.3,685.0 870.0,690.0" stroke="#8a8fc0" stroke-width="2.5" fill="none" stroke-linecap="round" stroke-linejoin="round"/><path d="M880.0,630.0 C878.7,635.0 873.7,650.0 872.0,660.0 C870.3,670.0 870.3,685.0 870.0,690.0" stroke="#a9c0ea" stroke-width="1" fill="none" stroke-linecap="round" opacity="0.6"/>
<path d="M895.0,560.0 C894.2,564.2 891.2,576.7 890.0,585.0 C888.8,593.3 888.3,605.8 888.0,610.0" stroke="#6a6f9f" stroke-width="4.2" fill="none" stroke-linecap="round" stroke-linejoin="round" opacity="0.85"/><path d="M895.0,560.0 C894.2,564.2 891.2,576.7 890.0,585.0 C888.8,593.3 888.3,605.8 888.0,610.0" stroke="#8a8fc0" stroke-width="2.2" fill="none" stroke-linecap="round" stroke-linejoin="round"/><path d="M895.0,560.0 C894.2,564.2 891.2,576.7 890.0,585.0 C888.8,593.3 888.3,605.8 888.0,610.0" stroke="#a9c0ea" stroke-width="1" fill="none" stroke-linecap="round" opacity="0.6"/>
<path d="M930.0,700.0 C928.3,705.8 922.7,725.0 920.0,735.0 C917.3,745.0 915.0,755.8 914.0,760.0" stroke="#2e4680" stroke-width="5" fill="none" stroke-linecap="round" stroke-linejoin="round" opacity="0.85"/><path d="M930.0,700.0 C928.3,705.8 922.7,725.0 920.0,735.0 C917.3,745.0 915.0,755.8 914.0,760.0" stroke="#5a78c0" stroke-width="3" fill="none" stroke-linecap="round" stroke-linejoin="round"/><path d="M930.0,700.0 C928.3,705.8 922.7,725.0 920.0,735.0 C917.3,745.0 915.0,755.8 914.0,760.0" stroke="#a9c0ea" stroke-width="1" fill="none" stroke-linecap="round" opacity="0.6"/>
</g>
<g id="arteries">
<path d="M608.0,366.0 C611.7,370.3 623.8,383.3 630.0,392.0 C636.2,400.7 641.3,411.7 645.0,418.0 C648.7,424.3 654.5,424.7 652.0,430.0 C649.5,435.3 638.0,443.0 630.0,450.0 C622.0,457.0 613.2,463.0 604.0,472.0 C594.8,481.0 585.2,493.8 575.0,504.0 C564.8,514.2 551.3,524.3 543.0,533.0 C534.7,541.7 530.5,546.5 525.0,556.0 C519.5,565.5 513.8,579.3 510.0,590.0 C506.2,600.7 504.0,611.7 502.0,620.0 C500.0,628.3 498.7,636.7 498.0,640.0" stroke="#7a2622" stroke-width="14.4" fill="none" stroke-linecap="round" stroke-linejoin="round"/><path d="M608.0,366.0 C611.7,370.3 623.8,383.3 630.0,392.0 C636.2,400.7 641.3,411.7 645.0,418.0 C648.7,424.3 654.5,424.7 652.0,430.0 C649.5,435.3 638.0,443.0 630.0,450.0 C622.0,457.0 613.2,463.0 604.0,472.0 C594.8,481.0 585.2,493.8 575.0,504.0 C564.8,514.2 551.3,524.3 543.0,533.0 C534.7,541.7 530.5,546.5 525.0,556.0 C519.5,565.5 513.8,579.3 510.0,590.0 C506.2,600.7 504.0,611.7 502.0,620.0 C500.0,628.3 498.7,636.7 498.0,640.0" stroke="#d44a3c" stroke-width="12" fill="none" stroke-linecap="round" stroke-linejoin="round"/><path d="M608.0,366.0 C611.7,370.3 623.8,383.3 630.0,392.0 C636.2,400.7 641.3,411.7 645.0,418.0 C648.7,424.3 654.5,424.7 652.0,430.0 C649.5,435.3 638.0,443.0 630.0,450.0 C622.0,457.0 613.2,463.0 604.0,472.0 C594.8,481.0 585.2,493.8 575.0,504.0 C564.8,514.2 551.3,524.3 543.0,533.0 C534.7,541.7 530.5,546.5 525.0,556.0 C519.5,565.5 513.8,579.3 510.0,590.0 C506.2,600.7 504.0,611.7 502.0,620.0 C500.0,628.3 498.7,636.7 498.0,640.0" stroke="#f29a88" stroke-width="3.3600000000000003" fill="none" stroke-linecap="round" opacity="0.7" transform="translate(-1,-1)"/>
<path d="M645.0,428.0 C646.8,428.7 652.8,431.0 656.0,432.0 C659.2,433.0 662.7,433.7 664.0,434.0" stroke="#7a2622" stroke-width="9.4" fill="none" stroke-linecap="round" stroke-linejoin="round"/><path d="M645.0,428.0 C646.8,428.7 652.8,431.0 656.0,432.0 C659.2,433.0 662.7,433.7 664.0,434.0" stroke="#d44a3c" stroke-width="7" fill="none" stroke-linecap="round" stroke-linejoin="round"/><path d="M645.0,428.0 C646.8,428.7 652.8,431.0 656.0,432.0 C659.2,433.0 662.7,433.7 664.0,434.0" stroke="#f29a88" stroke-width="1.9600000000000002" fill="none" stroke-linecap="round" opacity="0.7" transform="translate(-1,-1)"/>
<path d="M640.0,450.0 C641.7,450.8 647.0,453.7 650.0,455.0 C653.0,456.3 656.7,457.5 658.0,458.0" stroke="#7a2622" stroke-width="8.4" fill="none" stroke-linecap="round" stroke-linejoin="round"/><path d="M640.0,450.0 C641.7,450.8 647.0,453.7 650.0,455.0 C653.0,456.3 656.7,457.5 658.0,458.0" stroke="#d44a3c" stroke-width="6" fill="none" stroke-linecap="round" stroke-linejoin="round"/><path d="M640.0,450.0 C641.7,450.8 647.0,453.7 650.0,455.0 C653.0,456.3 656.7,457.5 658.0,458.0" stroke="#f29a88" stroke-width="1.6800000000000002" fill="none" stroke-linecap="round" opacity="0.7" transform="translate(-1,-1)"/>
<path d="M510.0,600.0 C511.3,606.7 514.3,626.2 518.0,640.0 C521.7,653.8 526.7,670.5 532.0,683.0 C537.3,695.5 547.0,709.7 550.0,715.0" stroke="#7a2622" stroke-width="6.9" fill="none" stroke-linecap="round" stroke-linejoin="round"/><path d="M510.0,600.0 C511.3,606.7 514.3,626.2 518.0,640.0 C521.7,653.8 526.7,670.5 532.0,683.0 C537.3,695.5 547.0,709.7 550.0,715.0" stroke="#d44a3c" stroke-width="4.5" fill="none" stroke-linecap="round" stroke-linejoin="round"/><path d="M510.0,600.0 C511.3,606.7 514.3,626.2 518.0,640.0 C521.7,653.8 526.7,670.5 532.0,683.0 C537.3,695.5 547.0,709.7 550.0,715.0" stroke="#f29a88" stroke-width="1.2600000000000002" fill="none" stroke-linecap="round" opacity="0.7" transform="translate(-1,-1)"/>
<path d="M620.0,462.0 C619.7,466.7 617.7,480.3 618.0,490.0 C618.3,499.7 623.0,510.5 622.0,520.0 C621.0,529.5 612.3,537.8 612.0,547.0 C611.7,556.2 616.8,567.2 620.0,575.0 C623.2,582.8 629.3,587.0 631.0,594.0 C632.7,601.0 628.8,610.5 630.0,617.0 C631.2,623.5 634.7,625.2 638.0,633.0 C641.3,640.8 645.0,652.8 650.0,664.0 C655.0,675.2 659.7,689.0 668.0,700.0 C676.3,711.0 687.7,722.2 700.0,730.0 C712.3,737.8 732.0,741.7 742.0,747.0 C752.0,752.3 755.0,756.0 760.0,762.0 C765.0,768.0 770.0,779.5 772.0,783.0" stroke="#7a2622" stroke-width="8.9" fill="none" stroke-linecap="round" stroke-linejoin="round"/><path d="M620.0,462.0 C619.7,466.7 617.7,480.3 618.0,490.0 C618.3,499.7 623.0,510.5 622.0,520.0 C621.0,529.5 612.3,537.8 612.0,547.0 C611.7,556.2 616.8,567.2 620.0,575.0 C623.2,582.8 629.3,587.0 631.0,594.0 C632.7,601.0 628.8,610.5 630.0,617.0 C631.2,623.5 634.7,625.2 638.0,633.0 C641.3,640.8 645.0,652.8 650.0,664.0 C655.0,675.2 659.7,689.0 668.0,700.0 C676.3,711.0 687.7,722.2 700.0,730.0 C712.3,737.8 732.0,741.7 742.0,747.0 C752.0,752.3 755.0,756.0 760.0,762.0 C765.0,768.0 770.0,779.5 772.0,783.0" stroke="#d44a3c" stroke-width="6.5" fill="none" stroke-linecap="round" stroke-linejoin="round"/><path d="M620.0,462.0 C619.7,466.7 617.7,480.3 618.0,490.0 C618.3,499.7 623.0,510.5 622.0,520.0 C621.0,529.5 612.3,537.8 612.0,547.0 C611.7,556.2 616.8,567.2 620.0,575.0 C623.2,582.8 629.3,587.0 631.0,594.0 C632.7,601.0 628.8,610.5 630.0,617.0 C631.2,623.5 634.7,625.2 638.0,633.0 C641.3,640.8 645.0,652.8 650.0,664.0 C655.0,675.2 659.7,689.0 668.0,700.0 C676.3,711.0 687.7,722.2 700.0,730.0 C712.3,737.8 732.0,741.7 742.0,747.0 C752.0,752.3 755.0,756.0 760.0,762.0 C765.0,768.0 770.0,779.5 772.0,783.0" stroke="#f29a88" stroke-width="1.8200000000000003" fill="none" stroke-linecap="round" opacity="0.7" transform="translate(-1,-1)"/>
<path d="M553.0,525.0 C555.5,530.8 564.5,550.5 568.0,560.0 C571.5,569.5 571.7,570.8 574.0,582.0 C576.3,593.2 577.0,616.3 582.0,627.0 C587.0,637.7 596.0,641.0 604.0,646.0 C612.0,651.0 623.8,650.8 630.0,657.0 C636.2,663.2 636.7,673.8 641.0,683.0 C645.3,692.2 653.5,707.2 656.0,712.0" stroke="#7a2622" stroke-width="8.9" fill="none" stroke-linecap="round" stroke-linejoin="round"/><path d="M553.0,525.0 C555.5,530.8 564.5,550.5 568.0,560.0 C571.5,569.5 571.7,570.8 574.0,582.0 C576.3,593.2 577.0,616.3 582.0,627.0 C587.0,637.7 596.0,641.0 604.0,646.0 C612.0,651.0 623.8,650.8 630.0,657.0 C636.2,663.2 636.7,673.8 641.0,683.0 C645.3,692.2 653.5,707.2 656.0,712.0" stroke="#d44a3c" stroke-width="6.5" fill="none" stroke-linecap="round" stroke-linejoin="round"/><path d="M553.0,525.0 C555.5,530.8 564.5,550.5 568.0,560.0 C571.5,569.5 571.7,570.8 574.0,582.0 C576.3,593.2 577.0,616.3 582.0,627.0 C587.0,637.7 596.0,641.0 604.0,646.0 C612.0,651.0 623.8,650.8 630.0,657.0 C636.2,663.2 636.7,673.8 641.0,683.0 C645.3,692.2 653.5,707.2 656.0,712.0" stroke="#f29a88" stroke-width="1.8200000000000003" fill="none" stroke-linecap="round" opacity="0.7" transform="translate(-1,-1)"/>
<path d="M623.0,523.0 C627.0,525.3 641.7,532.3 647.0,537.0 C652.3,541.7 653.7,548.7 655.0,551.0" stroke="#7a2622" stroke-width="6.4" fill="none" stroke-linecap="round" stroke-linejoin="round"/><path d="M623.0,523.0 C627.0,525.3 641.7,532.3 647.0,537.0 C652.3,541.7 653.7,548.7 655.0,551.0" stroke="#d44a3c" stroke-width="4" fill="none" stroke-linecap="round" stroke-linejoin="round"/><path d="M623.0,523.0 C627.0,525.3 641.7,532.3 647.0,537.0 C652.3,541.7 653.7,548.7 655.0,551.0" stroke="#f29a88" stroke-width="1.12" fill="none" stroke-linecap="round" opacity="0.7" transform="translate(-1,-1)"/>
<path d="M600.0,597.0 C603.8,599.0 612.7,604.3 623.0,609.0 C633.3,613.7 650.8,619.8 662.0,625.0 C673.2,630.2 681.3,636.3 690.0,640.0 C698.7,643.7 710.0,645.8 714.0,647.0" stroke="#7a2622" stroke-width="6.4" fill="none" stroke-linecap="round" stroke-linejoin="round"/><path d="M600.0,597.0 C603.8,599.0 612.7,604.3 623.0,609.0 C633.3,613.7 650.8,619.8 662.0,625.0 C673.2,630.2 681.3,636.3 690.0,640.0 C698.7,643.7 710.0,645.8 714.0,647.0" stroke="#d44a3c" stroke-width="4" fill="none" stroke-linecap="round" stroke-linejoin="round"/><path d="M600.0,597.0 C603.8,599.0 612.7,604.3 623.0,609.0 C633.3,613.7 650.8,619.8 662.0,625.0 C673.2,630.2 681.3,636.3 690.0,640.0 C698.7,643.7 710.0,645.8 714.0,647.0" stroke="#f29a88" stroke-width="1.12" fill="none" stroke-linecap="round" opacity="0.7" transform="translate(-1,-1)"/>
<path d="M643.0,649.0 C648.8,651.0 668.2,656.3 678.0,661.0 C687.8,665.7 695.3,672.0 702.0,677.0 C708.7,682.0 713.0,682.3 718.0,691.0 C723.0,699.7 729.7,722.7 732.0,729.0" stroke="#7a2622" stroke-width="6.4" fill="none" stroke-linecap="round" stroke-linejoin="round"/><path d="M643.0,649.0 C648.8,651.0 668.2,656.3 678.0,661.0 C687.8,665.7 695.3,672.0 702.0,677.0 C708.7,682.0 713.0,682.3 718.0,691.0 C723.0,699.7 729.7,722.7 732.0,729.0" stroke="#d44a3c" stroke-width="4" fill="none" stroke-linecap="round" stroke-linejoin="round"/><path d="M643.0,649.0 C648.8,651.0 668.2,656.3 678.0,661.0 C687.8,665.7 695.3,672.0 702.0,677.0 C708.7,682.0 713.0,682.3 718.0,691.0 C723.0,699.7 729.7,722.7 732.0,729.0" stroke="#f29a88" stroke-width="1.12" fill="none" stroke-linecap="round" opacity="0.7" transform="translate(-1,-1)"/>
<path d="M751.0,745.0 C756.5,744.2 772.7,737.7 784.0,740.0 C795.3,742.3 809.7,750.7 819.0,759.0 C828.3,767.3 836.5,784.8 840.0,790.0" stroke="#7a2622" stroke-width="6.9" fill="none" stroke-linecap="round" stroke-linejoin="round"/><path d="M751.0,745.0 C756.5,744.2 772.7,737.7 784.0,740.0 C795.3,742.3 809.7,750.7 819.0,759.0 C828.3,767.3 836.5,784.8 840.0,790.0" stroke="#d44a3c" stroke-width="4.5" fill="none" stroke-linecap="round" stroke-linejoin="round"/><path d="M751.0,745.0 C756.5,744.2 772.7,737.7 784.0,740.0 C795.3,742.3 809.7,750.7 819.0,759.0 C828.3,767.3 836.5,784.8 840.0,790.0" stroke="#f29a88" stroke-width="1.2600000000000002" fill="none" stroke-linecap="round" opacity="0.7" transform="translate(-1,-1)"/>
<path d="M700.0,742.0 C705.0,746.7 722.5,760.3 730.0,770.0 C737.5,779.7 742.5,795.0 745.0,800.0" stroke="#7a2622" stroke-width="5.9" fill="none" stroke-linecap="round" stroke-linejoin="round"/><path d="M700.0,742.0 C705.0,746.7 722.5,760.3 730.0,770.0 C737.5,779.7 742.5,795.0 745.0,800.0" stroke="#d44a3c" stroke-width="3.5" fill="none" stroke-linecap="round" stroke-linejoin="round"/><path d="M700.0,742.0 C705.0,746.7 722.5,760.3 730.0,770.0 C737.5,779.7 742.5,795.0 745.0,800.0" stroke="#f29a88" stroke-width="1" fill="none" stroke-linecap="round" opacity="0.7" transform="translate(-1,-1)"/>
<path d="M555.0,600.0 C553.8,605.0 549.7,620.0 548.0,630.0 C546.3,640.0 545.5,655.0 545.0,660.0" stroke="#7a2622" stroke-width="5.9" fill="none" stroke-linecap="round" stroke-linejoin="round"/><path d="M555.0,600.0 C553.8,605.0 549.7,620.0 548.0,630.0 C546.3,640.0 545.5,655.0 545.0,660.0" stroke="#d44a3c" stroke-width="3.5" fill="none" stroke-linecap="round" stroke-linejoin="round"/><path d="M555.0,600.0 C553.8,605.0 549.7,620.0 548.0,630.0 C546.3,640.0 545.5,655.0 545.0,660.0" stroke="#f29a88" stroke-width="1" fill="none" stroke-linecap="round" opacity="0.7" transform="translate(-1,-1)"/>
<path d="M857.0,470.0 C861.8,474.2 878.2,486.0 886.0,495.0 C893.8,504.0 899.0,514.3 904.0,524.0 C909.0,533.7 912.5,543.2 916.0,553.0 C919.5,562.8 922.2,572.2 925.0,583.0 C927.8,593.8 930.5,606.0 933.0,618.0 C935.5,630.0 939.2,641.3 940.0,655.0 C940.8,668.7 939.0,685.8 938.0,700.0 C937.0,714.2 934.7,727.3 934.0,740.0 C933.3,752.7 933.0,765.2 934.0,776.0 C935.0,786.8 939.0,800.2 940.0,805.0" stroke="#7a2622" stroke-width="16.4" fill="none" stroke-linecap="round" stroke-linejoin="round"/><path d="M857.0,470.0 C861.8,474.2 878.2,486.0 886.0,495.0 C893.8,504.0 899.0,514.3 904.0,524.0 C909.0,533.7 912.5,543.2 916.0,553.0 C919.5,562.8 922.2,572.2 925.0,583.0 C927.8,593.8 930.5,606.0 933.0,618.0 C935.5,630.0 939.2,641.3 940.0,655.0 C940.8,668.7 939.0,685.8 938.0,700.0 C937.0,714.2 934.7,727.3 934.0,740.0 C933.3,752.7 933.0,765.2 934.0,776.0 C935.0,786.8 939.0,800.2 940.0,805.0" stroke="#d44a3c" stroke-width="14" fill="none" stroke-linecap="round" stroke-linejoin="round"/><path d="M857.0,470.0 C861.8,474.2 878.2,486.0 886.0,495.0 C893.8,504.0 899.0,514.3 904.0,524.0 C909.0,533.7 912.5,543.2 916.0,553.0 C919.5,562.8 922.2,572.2 925.0,583.0 C927.8,593.8 930.5,606.0 933.0,618.0 C935.5,630.0 939.2,641.3 940.0,655.0 C940.8,668.7 939.0,685.8 938.0,700.0 C937.0,714.2 934.7,727.3 934.0,740.0 C933.3,752.7 933.0,765.2 934.0,776.0 C935.0,786.8 939.0,800.2 940.0,805.0" stroke="#f29a88" stroke-width="3.9200000000000004" fill="none" stroke-linecap="round" opacity="0.7" transform="translate(-1,-1)"/>
<path d="M886.0,500.0 C885.0,504.2 880.7,516.7 880.0,525.0 C879.3,533.3 881.3,543.3 882.0,550.0 C882.7,556.7 883.7,562.5 884.0,565.0" stroke="#7a2622" stroke-width="8.4" fill="none" stroke-linecap="round" stroke-linejoin="round"/><path d="M886.0,500.0 C885.0,504.2 880.7,516.7 880.0,525.0 C879.3,533.3 881.3,543.3 882.0,550.0 C882.7,556.7 883.7,562.5 884.0,565.0" stroke="#d44a3c" stroke-width="6" fill="none" stroke-linecap="round" stroke-linejoin="round"/><path d="M886.0,500.0 C885.0,504.2 880.7,516.7 880.0,525.0 C879.3,533.3 881.3,543.3 882.0,550.0 C882.7,556.7 883.7,562.5 884.0,565.0" stroke="#f29a88" stroke-width="1.6800000000000002" fill="none" stroke-linecap="round" opacity="0.7" transform="translate(-1,-1)"/>
<path d="M916.0,553.0 C920.8,556.7 936.7,568.8 945.0,575.0 C953.3,581.2 962.5,587.5 966.0,590.0" stroke="#7a2622" stroke-width="7.9" fill="none" stroke-linecap="round" stroke-linejoin="round"/><path d="M916.0,553.0 C920.8,556.7 936.7,568.8 945.0,575.0 C953.3,581.2 962.5,587.5 966.0,590.0" stroke="#d44a3c" stroke-width="5.5" fill="none" stroke-linecap="round" stroke-linejoin="round"/><path d="M916.0,553.0 C920.8,556.7 936.7,568.8 945.0,575.0 C953.3,581.2 962.5,587.5 966.0,590.0" stroke="#f29a88" stroke-width="1.54" fill="none" stroke-linecap="round" opacity="0.7" transform="translate(-1,-1)"/>
<path d="M925.0,590.0 C921.7,593.3 909.5,603.7 905.0,610.0 C900.5,616.3 899.2,625.0 898.0,628.0" stroke="#7a2622" stroke-width="7.4" fill="none" stroke-linecap="round" stroke-linejoin="round"/><path d="M925.0,590.0 C921.7,593.3 909.5,603.7 905.0,610.0 C900.5,616.3 899.2,625.0 898.0,628.0" stroke="#d44a3c" stroke-width="5" fill="none" stroke-linecap="round" stroke-linejoin="round"/><path d="M925.0,590.0 C921.7,593.3 909.5,603.7 905.0,610.0 C900.5,616.3 899.2,625.0 898.0,628.0" stroke="#f29a88" stroke-width="1.4000000000000001" fill="none" stroke-linecap="round" opacity="0.7" transform="translate(-1,-1)"/>
<path d="M937.0,675.0 C940.8,674.2 952.3,671.3 960.0,670.0 C967.7,668.7 979.2,667.5 983.0,667.0" stroke="#7a2622" stroke-width="7.4" fill="none" stroke-linecap="round" stroke-linejoin="round"/><path d="M937.0,675.0 C940.8,674.2 952.3,671.3 960.0,670.0 C967.7,668.7 979.2,667.5 983.0,667.0" stroke="#d44a3c" stroke-width="5" fill="none" stroke-linecap="round" stroke-linejoin="round"/><path d="M937.0,675.0 C940.8,674.2 952.3,671.3 960.0,670.0 C967.7,668.7 979.2,667.5 983.0,667.0" stroke="#f29a88" stroke-width="1.4000000000000001" fill="none" stroke-linecap="round" opacity="0.7" transform="translate(-1,-1)"/>
<path d="M934.0,716.0 C937.5,716.7 948.7,718.8 955.0,720.0 C961.3,721.2 969.2,722.5 972.0,723.0" stroke="#7a2622" stroke-width="6.9" fill="none" stroke-linecap="round" stroke-linejoin="round"/><path d="M934.0,716.0 C937.5,716.7 948.7,718.8 955.0,720.0 C961.3,721.2 969.2,722.5 972.0,723.0" stroke="#d44a3c" stroke-width="4.5" fill="none" stroke-linecap="round" stroke-linejoin="round"/><path d="M934.0,716.0 C937.5,716.7 948.7,718.8 955.0,720.0 C961.3,721.2 969.2,722.5 972.0,723.0" stroke="#f29a88" stroke-width="1.2600000000000002" fill="none" stroke-linecap="round" opacity="0.7" transform="translate(-1,-1)"/>
<path d="M936.0,705.0 C933.3,709.7 923.7,723.8 920.0,733.0 C916.3,742.2 915.0,755.5 914.0,760.0" stroke="#7a2622" stroke-width="6.9" fill="none" stroke-linecap="round" stroke-linejoin="round"/><path d="M936.0,705.0 C933.3,709.7 923.7,723.8 920.0,733.0 C916.3,742.2 915.0,755.5 914.0,760.0" stroke="#d44a3c" stroke-width="4.5" fill="none" stroke-linecap="round" stroke-linejoin="round"/><path d="M936.0,705.0 C933.3,709.7 923.7,723.8 920.0,733.0 C916.3,742.2 915.0,755.5 914.0,760.0" stroke="#f29a88" stroke-width="1.2600000000000002" fill="none" stroke-linecap="round" opacity="0.7" transform="translate(-1,-1)"/>
<path d="M938.0,690.0 C934.2,691.7 920.5,695.0 915.0,700.0 C909.5,705.0 906.7,716.7 905.0,720.0" stroke="#7a2622" stroke-width="5.9" fill="none" stroke-linecap="round" stroke-linejoin="round"/><path d="M938.0,690.0 C934.2,691.7 920.5,695.0 915.0,700.0 C909.5,705.0 906.7,716.7 905.0,720.0" stroke="#d44a3c" stroke-width="3.5" fill="none" stroke-linecap="round" stroke-linejoin="round"/><path d="M938.0,690.0 C934.2,691.7 920.5,695.0 915.0,700.0 C909.5,705.0 906.7,716.7 905.0,720.0" stroke="#f29a88" stroke-width="1" fill="none" stroke-linecap="round" opacity="0.7" transform="translate(-1,-1)"/>
<path d="M934.0,770.0 C936.7,773.3 946.5,784.2 950.0,790.0 C953.5,795.8 954.2,802.5 955.0,805.0" stroke="#7a2622" stroke-width="6.4" fill="none" stroke-linecap="round" stroke-linejoin="round"/><path d="M934.0,770.0 C936.7,773.3 946.5,784.2 950.0,790.0 C953.5,795.8 954.2,802.5 955.0,805.0" stroke="#d44a3c" stroke-width="4" fill="none" stroke-linecap="round" stroke-linejoin="round"/><path d="M934.0,770.0 C936.7,773.3 946.5,784.2 950.0,790.0 C953.5,795.8 954.2,802.5 955.0,805.0" stroke="#f29a88" stroke-width="1.12" fill="none" stroke-linecap="round" opacity="0.7" transform="translate(-1,-1)"/>
<path d="M934.0,760.0 C931.3,763.3 921.7,773.3 918.0,780.0 C914.3,786.7 913.0,796.7 912.0,800.0" stroke="#7a2622" stroke-width="5.9" fill="none" stroke-linecap="round" stroke-linejoin="round"/><path d="M934.0,760.0 C931.3,763.3 921.7,773.3 918.0,780.0 C914.3,786.7 913.0,796.7 912.0,800.0" stroke="#d44a3c" stroke-width="3.5" fill="none" stroke-linecap="round" stroke-linejoin="round"/><path d="M934.0,760.0 C931.3,763.3 921.7,773.3 918.0,780.0 C914.3,786.7 913.0,796.7 912.0,800.0" stroke="#f29a88" stroke-width="1" fill="none" stroke-linecap="round" opacity="0.7" transform="translate(-1,-1)"/>
</g>
<!-- ===== valve inset ===== -->
<g filter="url(#blur30)"><path d="M960,250 C990,220 1020,200 1045,190 L1045,260 C1020,265 990,268 965,270 Z" fill="#f7d9bf" opacity="0.9"/></g>
<g id="inset">
  <ellipse cx="938.7" cy="313.9" rx="102.6" ry="93.4" fill="#f7dcc6"/>
  <g clip-path="url(#insetClip)">
    <rect x="830" y="215" width="220" height="200" fill="#f7ddc7"/>
    <!-- red aorta walls top -->
    <path d="M852,254 C875,232 905,222 940,220 C970,219 990,224 1002,232 C1003,250 1003,265 1000,280 C995,285 990,288 984,292 C975,272 958,258 938,256 C915,256 895,270 882,292 C876,302 872,310 868,318 L864,316 C860,295 855,275 848,262 Z" fill="#d05d4d"/>
    <path d="M895,232 C920,226 950,226 985,234" stroke="#e88c7b" stroke-width="7" fill="none" opacity="0.6"/>
    <path d="M858,262 C866,250 876,242 888,236" stroke="#ea917f" stroke-width="5" fill="none" opacity="0.6"/>
    <path d="M994,236 C998,255 999,268 998,280" stroke="#b4443a" stroke-width="4" fill="none" opacity="0.5"/>
    <path d="M850,258 C856,280 860,300 864,320" stroke="#8c3a33" stroke-width="1.2" fill="none"/>
    <path d="M1002,232 C1003,250 1003,265 1000,280 C995,285 990,288 984,292" stroke="#8c3a33" stroke-width="1.2" fill="none"/>
    <!-- pink tissue bottom -->
    <path d="M830,318 C855,316 868,316 880,318 C920,330 960,330 990,318 C1010,315 1030,314 1050,316 L1050,420 L830,420 Z" fill="#eebdb3"/>
    <rect x="830" y="315" width="220" height="100" fill="#fff" filter="url(#cellsSmall)" opacity="0.2"/>
    <path d="M836,318 C855,315 870,316 882,320" stroke="#b9655d" stroke-width="1.3" fill="none"/>
    <path d="M992,320 C1012,315 1030,314 1046,318" stroke="#b9655d" stroke-width="1.3" fill="none"/>
  </g>
  <!-- ring -->
  <ellipse cx="938.2" cy="307.4" rx="68.5" ry="66" fill="#f4e2cf" stroke="#9a5a4e" stroke-width="1.4"/>
  <ellipse cx="938.2" cy="307.4" rx="60.5" ry="58.5" fill="none" stroke="#b47a6a" stroke-width="1.1"/>
  <ellipse cx="938.2" cy="307.4" rx="53.5" ry="52" fill="#d9cebc" stroke="#5e4850" stroke-width="1.3"/>
  <!-- cusp shading (concavities) -->
  <path d="M888,300 C888,280 896,268 906,262 L924,290 C915,300 905,315 898,330 C892,322 888,312 888,300 Z" fill="#c9bfb3"/>
  <path d="M886,300 C890,285 897,275 906,268 C900,285 898,305 900,326 C892,318 887,310 886,300 Z" fill="#8f7d84" opacity="0.7"/>
  <path d="M988,298 C988,282 982,270 972,262 L956,292 C964,302 972,318 978,332 C985,324 988,312 988,298 Z" fill="#cbc1b4"/>
  <path d="M990,300 C988,285 982,275 974,268 C978,285 980,305 978,326 C986,318 990,310 990,300 Z" fill="#8f7d84" opacity="0.65"/>
  <path d="M914,340 C925,334 950,334 966,340 C958,352 948,358 938,359 C928,358 920,352 914,340 Z" fill="#c2b7b0"/>
  <path d="M908,258 C925,252 952,252 968,258 C960,272 950,285 939,296 C928,285 916,272 908,258 Z" fill="#857079"/>
  <ellipse cx="938" cy="270" rx="12" ry="6" fill="#a9959d" opacity="0.6"/>
  <!-- cusp ridges -->
  <path d="M906,260 L939,298 L898,334" stroke="#efe7da" stroke-width="7" fill="none" stroke-linejoin="round"/>
  <path d="M970,260 L939,298 L980,334" stroke="#ede4d6" stroke-width="7" fill="none" stroke-linejoin="round"/>
  <path d="M939,298 L939,358" stroke="#ebe2d3" stroke-width="5" fill="none"/>
  <path d="M906,260 L939,298 L898,334 M970,260 L939,298 L980,334 M939,298 L937,358" stroke="#6b5852" stroke-width="1" fill="none"/>
  <ellipse cx="938.7" cy="313.9" rx="102.6" ry="93.4" fill="none" stroke="#3b4d6e" stroke-width="2.6"/>
  <!-- pointer arrow -->
  <path d="M1062,254 C1045,266 1032,276 1020,284" stroke="#fff" stroke-width="7" stroke-linecap="round" fill="none"/>
  <path d="M1062,254 C1045,266 1032,276 1020,284" stroke="#3d3d3d" stroke-width="3.2" stroke-linecap="round" fill="none"/>
  <path d="M1004,296 L1013,274 L1028,291 Z" fill="#3d3d3d" stroke="#fff" stroke-width="1.2"/>
</g>
<!-- ascending aorta leader -->
<path d="M735,181 C750,176 768,176 785,179" stroke="#fff" stroke-width="9" fill="none" stroke-linecap="round"/>
<path d="M737,181.5 C752,178 768,178 783,179.5" stroke="#3a3a3a" stroke-width="3.6" fill="none" stroke-linecap="round"/>
</svg>
<div class="abs" style="left:30px;top:97px;width:1476px;height:2px;background:#cfd6e5"></div>
<!-- Box A -->
<div class="box" style="left:38px;top:276px;width:463px;height:177px;background:#fbefe5;border:1px solid #ecd6c6">
  <div class="hd" style="height:85px;background:linear-gradient(90deg,#f8dccb,#f9e4d6);border-bottom:1px solid #e9cdb9"></div>
</div>
<div class="badge" style="left:46px;top:282px;width:48px;height:48px;font-size:36px;line-height:48px">1</div>
<div class="abs" style="left:76px;top:383px;width:12px;height:12px;border-radius:50%;background:#cc4b45"></div>
<!-- Box B -->
<div class="box" style="left:35px;top:513px;width:411px;height:179px;background:#fcefec;border:1px solid #eed2cd">
  <div class="hd" style="height:86px;background:linear-gradient(90deg,#f5d2cf,#f7dcd9);border-bottom:1px solid #e8c4bf"></div>
</div>
<div class="badge" style="left:48px;top:524px;width:48px;height:48px;font-size:36px;line-height:48px">2</div>
<div class="abs" style="left:74px;top:622px;width:12px;height:12px;border-radius:50%;background:#cc4b45"></div>
<!-- Box C -->
<div class="box" style="left:1040px;top:130px;width:458px;height:123px;background:#f8e2d3;border:1px solid #efd5c3"></div>
<!-- Box D -->
<div class="box" style="left:1043px;top:335px;width:456px;height:148px;background:#fcf0e7;border:1px solid #ecd6c6">
  <div class="hd" style="height:90px;background:linear-gradient(90deg,#f8dbc9,#f9e2d4);border-bottom:1px solid #e9cdb9"></div>
</div>
<div class="badge" style="left:1056px;top:344px;width:48px;height:48px;font-size:36px;line-height:48px">1</div>
<div class="abs" style="left:1081px;top:447px;width:12px;height:12px;border-radius:50%;background:#1d4585"></div>
<!-- Box E -->
<div class="box" style="left:1017px;top:592px;width:485px;height:145px;background:#fcf0ec;border:1px solid #eed2cd">
  <div class="hd" style="height:89px;background:linear-gradient(90deg,#f6d0cd,#f7d9d6);border-bottom:1px solid #e8c4bf"></div>
</div>
<div class="badge" style="left:1007px;top:599px;width:44px;height:44px;font-size:34px;line-height:44px">3</div>
<div class="abs" style="left:1036px;top:703px;width:12px;height:12px;border-radius:50%;background:#1d4585"></div>
<!-- Box F -->
<div class="box" style="left:486px;top:861px;width:1011px;height:106px;background:#fbefe2;border:1px solid #efd9c2">
  <div class="hd" style="height:52px;background:linear-gradient(90deg,#fae3c8,#f9dfcb);border-bottom:1px solid #eed2b8"></div>
</div>
<svg class="abs" style="left:504px;top:868px" width="42" height="36" viewBox="0 0 42 36"><path d="M21 2 L40 34 L2 34 Z" fill="#b8752d" stroke="#b8752d" stroke-width="3" stroke-linejoin="round"/><rect x="19" y="11" width="4.5" height="13" rx="2" fill="#fbe9cf"/><circle cx="21.2" cy="29" r="2.6" fill="#fbe9cf"/></svg>
<div class="abs" style="left:533px;top:935px;width:11px;height:11px;border-radius:50%;background:#a49bd0"></div>
<svg class="abs" style="left:0;top:0" width="1536" height="1024" viewBox="0 0 1536 1024"><!-- ===== callout arrows ===== -->
<defs>
  <linearGradient id="gA1" gradientUnits="userSpaceOnUse" x1="488" y1="0" x2="600" y2="0">
    <stop offset="0" stop-color="#e9917c" stop-opacity="0"/><stop offset="0.45" stop-color="#df6b57" stop-opacity="0.85"/><stop offset="1" stop-color="#cf3f31"/>
  </linearGradient>
  <linearGradient id="wA1" gradientUnits="userSpaceOnUse" x1="500" y1="0" x2="580" y2="0">
    <stop offset="0" stop-color="#fff" stop-opacity="0"/><stop offset="1" stop-color="#fff" stop-opacity="1"/>
  </linearGradient>
  <linearGradient id="gB1" gradientUnits="userSpaceOnUse" x1="405" y1="0" x2="505" y2="0">
    <stop offset="0" stop-color="#e9917c" stop-opacity="0"/><stop offset="0.5" stop-color="#df6b57" stop-opacity="0.85"/><stop offset="1" stop-color="#cf3f31"/>
  </linearGradient>
  <linearGradient id="wB1" gradientUnits="userSpaceOnUse" x1="420" y1="0" x2="470" y2="0">
    <stop offset="0" stop-color="#fff" stop-opacity="0"/><stop offset="1" stop-color="#fff" stop-opacity="1"/>
  </linearGradient>
  <linearGradient id="gD1" gradientUnits="userSpaceOnUse" x1="1068" y1="0" x2="870" y2="0">
    <stop offset="0" stop-color="#e08a78" stop-opacity="0"/><stop offset="0.3" stop-color="#dc6652" stop-opacity="0.9"/><stop offset="1" stop-color="#cc3f31"/>
  </linearGradient>
  <linearGradient id="wD1" gradientUnits="userSpaceOnUse" x1="1040" y1="0" x2="960" y2="0">
    <stop offset="0" stop-color="#fff" stop-opacity="0"/><stop offset="1" stop-color="#fff" stop-opacity="1"/>
  </linearGradient>
  <linearGradient id="gE1" gradientUnits="userSpaceOnUse" x1="940" y1="0" x2="1005" y2="0">
    <stop offset="0" stop-color="#e48a78" stop-opacity="0.75"/><stop offset="0.5" stop-color="#d65544"/><stop offset="1" stop-color="#c63a2e"/>
  </linearGradient>
  <linearGradient id="gBlueD" gradientUnits="userSpaceOnUse" x1="900" y1="0" x2="1130" y2="0">
    <stop offset="0" stop-color="#a8c8ec"/><stop offset="0.15" stop-color="#4a8ad3"/><stop offset="0.6" stop-color="#3d82d2"/><stop offset="1" stop-color="#c3d9f1"/>
  </linearGradient>
  <linearGradient id="gBlueF" gradientUnits="userSpaceOnUse" x1="1130" y1="0" x2="915" y2="0">
    <stop offset="0" stop-color="#b8d2ee" stop-opacity="0.4"/><stop offset="0.35" stop-color="#5b98da"/><stop offset="1" stop-color="#2f7bcf"/>
  </linearGradient>
  <linearGradient id="gBlueF2" gradientUnits="userSpaceOnUse" x1="1130" y1="0" x2="930" y2="0">
    <stop offset="0" stop-color="#cfe0f3" stop-opacity="0.2"/><stop offset="0.5" stop-color="#8fb8e6" stop-opacity="0.8"/><stop offset="1" stop-color="#4f90d8"/>
  </linearGradient>
  <linearGradient id="gArtOut" gradientUnits="userSpaceOnUse" x1="510" y1="0" x2="385" y2="0">
    <stop offset="0" stop-color="#cf4436"/><stop offset="0.7" stop-color="#d9553f"/><stop offset="1" stop-color="#eb8a65"/>
  </linearGradient>
</defs>
<!-- Box A upper arrow -->
<g>
  <path d="M488,323 C520,316 556,324 586,337 L587,334 L611,367 L564,362 L569,357 C550,345 520,333 490,328 Z" fill="none" stroke="url(#wA1)" stroke-width="6" stroke-linejoin="round"/>
  <path d="M488,323 C520,316 556,324 586,337 L587,334 L611,367 L564,362 L569,357 C550,345 520,333 490,328 Z" fill="url(#gA1)"/>
</g>
<!-- Box A lower arrow (artery exit) -->
<g>
  <path d="M512,416 C490,428 465,436 428,437" stroke="#fff" stroke-width="12" fill="none" stroke-linecap="round"/>
  <path d="M389,434 L428,423 L424,436 L427,448 Z" fill="none" stroke="#fff" stroke-width="5" stroke-linejoin="round"/>
  <path d="M512,416 C490,428 465,436 428,437" stroke="#8a3028" stroke-width="9" fill="none" stroke-linecap="round"/>
  <path d="M512,416 C490,428 465,436 428,437" stroke="url(#gArtOut)" stroke-width="7" fill="none" stroke-linecap="round"/>
  <path d="M389,434 L428,423 L424,436 L427,448 Z" fill="#e6785a"/>
</g>
<!-- Box B upper arrow -->
<g>
  <path d="M405,570 L466,570 L464,561 L506,578 L464,594 L466,585 L405,585 Z" fill="none" stroke="url(#wB1)" stroke-width="6" stroke-linejoin="round"/>
  <path d="M405,570 L466,570 L464,561 L506,578 L464,594 L466,585 L405,585 Z" fill="url(#gB1)"/>
</g>
<!-- Box B lower arrow (artery exit) -->
<g>
  <path d="M507,640 C490,660 465,675 408,682" stroke="#fff" stroke-width="13" fill="none" stroke-linecap="round"/>
  <path d="M369,683 L407,666 L404,682 L408,698 Z" fill="none" stroke="#fff" stroke-width="5" stroke-linejoin="round"/>
  <path d="M507,640 C490,660 465,675 408,682" stroke="#8a3028" stroke-width="10" fill="none" stroke-linecap="round"/>
  <path d="M507,640 C490,660 465,675 408,682" stroke="url(#gArtOut)" stroke-width="8" fill="none" stroke-linecap="round"/>
  <path d="M369,683 L407,666 L404,682 L408,698 Z" fill="#e6785a"/>
</g>
<!-- Box D arrow -->
<g>
  <path d="M1068,395 C1030,394 1000,404 968,421 C952,430 938,436 925,437 L921,428 L862,446 L927,460 L927,452 C946,450 960,446 974,438 C1000,420 1030,403 1068,402 Z" fill="none" stroke="url(#wD1)" stroke-width="5" stroke-linejoin="round"/>
  <path d="M1068,395 C1030,394 1000,404 968,421 C952,430 938,436 925,437 L921,428 L862,446 L927,460 L927,452 C946,450 960,446 974,438 C1000,420 1030,403 1068,402 Z" fill="url(#gD1)"/>
</g>
<!-- blue band from box D -->
<path d="M902,503 C950,505 1000,518 1049,523 C1085,522 1112,500 1126,481" stroke="#fff" stroke-width="18" fill="none" opacity="0.5"/>
<path d="M902,503 C950,505 1000,518 1049,523 C1085,522 1112,500 1126,481" stroke="url(#gBlueD)" stroke-width="12" fill="none"/>
<!-- Box E "3" band -->
<path d="M940,621 C965,618 985,617 1004,618" stroke="url(#gE1)" stroke-width="12" fill="none"/>
<!-- blue arrow bottom right -->
<defs>
  <linearGradient id="gBU" gradientUnits="userSpaceOnUse" x1="1125" y1="740" x2="950" y2="808">
    <stop offset="0" stop-color="#c9dcf2" stop-opacity="0.5"/><stop offset="0.3" stop-color="#8db6e6"/><stop offset="0.6" stop-color="#3f86d4"/><stop offset="1" stop-color="#2f7bcf"/>
  </linearGradient>
  <linearGradient id="gBL" gradientUnits="userSpaceOnUse" x1="1090" y1="0" x2="915" y2="0">
    <stop offset="0" stop-color="#d5e4f5" stop-opacity="0.2"/><stop offset="0.45" stop-color="#8fb8e6"/><stop offset="1" stop-color="#3b84d2"/>
  </linearGradient>
</defs>
<g>
  <path d="M1126,738 C1118,770 1090,798 1030,806" stroke="#fff" stroke-width="20" fill="none" opacity="0.7"/>
  <path d="M1126,738 C1118,770 1090,798 1030,806" stroke="url(#gBU)" stroke-width="12" fill="none"/>
  <path d="M944,808 L1021,787 L1015,806 L1027,821 Z" fill="url(#gBU)" stroke="#fff" stroke-width="3.5" stroke-linejoin="round"/>
  <path d="M1085,832 C1040,838 990,840 955,828" stroke="#fff" stroke-width="17" fill="none" opacity="0.6"/>
  <path d="M1085,832 C1040,838 990,840 955,828" stroke="url(#gBL)" stroke-width="10" fill="none"/>
  <path d="M913,801 L953,804 L944,818 L928,832 Z" fill="#3a82d2" stroke="#fff" stroke-width="3.5" stroke-linejoin="round"/>
</g>
</svg>
<div class="t " id="title" style="left:185px;top:26.0px;font-size:52px;transform:scaleX(0.9);font-weight:normal;color:#1c3f7c;-webkit-text-stroke:1.7px #1c3f7c">Coronary Arteries and Blood Supply to the Heart</div>
<div class="t red" id="a1" style="left:109.5px;top:286.5px;font-size:32px;transform:scaleX(1.163);">Left Coronary Artery</div>
<div class="t red" id="a2" style="left:108.5px;top:324.9px;font-size:32px;transform:scaleX(1.02);">(LCA)</div>
<div class="t blk" id="a3" style="left:106px;top:374.6px;font-size:28px;transform:scaleX(1.177);"><span class="nav">Left</span> Anterior Descending</div>
<div class="t blk" id="a4" style="left:121px;top:408.8px;font-size:28px;transform:scaleX(1.083);">(LAD) Branch</div>
<div class="t red" id="b1" style="left:105px;top:528.3px;font-size:30px;transform:scaleX(1.138);">Left Coronary Artery</div>
<div class="t red" id="b2" style="left:106px;top:565.6px;font-size:30px;transform:scaleX(0.995);">(LCA)</div>
<div class="t blk" id="b3" style="left:104px;top:616.0px;font-size:26px;transform:scaleX(1.159);"><span class="nav">Left</span> Anterior Descending</div>
<div class="t blk" id="b4" style="left:116px;top:650.5px;font-size:26px;transform:scaleX(1.073);">(LAD) Branch</div>
<div class="t blk" id="c1" style="left:1068px;top:139.1px;font-size:27px;transform:scaleX(1.067);"><b>Cconary</b> arteries branch off the</div>
<div class="t blk" id="c2" style="left:1068px;top:176.7px;font-size:27px;transform:scaleX(1.053);"><b>ascending aorta</b> just above</div>
<div class="t blk" id="c3" style="left:1068px;top:214.1px;font-size:27px;transform:scaleX(1.121);">the aortic valve.</div>
<div class="t red" id="d1" style="left:1111px;top:347.3px;font-size:32px;transform:scaleX(1.126);">Right Coronary Artery</div>
<div class="t red" id="d2" style="left:1112px;top:385.6px;font-size:32px;transform:scaleX(1.048);">(RCA)</div>
<div class="t blk" id="d3" style="left:1109px;top:438.3px;font-size:28px;transform:scaleX(1.134);"><span class="nav">Right</span> Marginal <span style="font-size:24px">(RM) Branch</span></div>
<div class="t red" id="e1" style="left:1064px;top:603.7px;font-size:32px;transform:scaleX(1.1);">Right Coronary Artery</div>
<div class="t red" id="e2" style="left:1064px;top:643.6px;font-size:32px;transform:scaleX(1.012);">(RCA)</div>
<div class="t blk" id="e3" style="left:1064px;top:693.3px;font-size:28px;transform:scaleX(1.167);"><span class="nav">Right</span> Marginal <span style="font-size:26px">(RM) Branch</span></div>
<div class="t blk" id="f1" style="left:556px;top:873.1px;font-size:30px;transform:scaleX(1.107);">Oxygenated blood flows into the myocardium.</div>
<div class="t blk" id="f2" style="left:558px;top:924.6px;font-size:30px;transform:scaleX(1.002);">Coronary perfusion mainly occurs during <span class="nav">diastole</span>.</div>
<div class="t blk" id="g1" style="left:787px;top:164.2px;font-size:28px;transform:scaleX(1.04);">Ascending Aorta</div>
</body></html>
